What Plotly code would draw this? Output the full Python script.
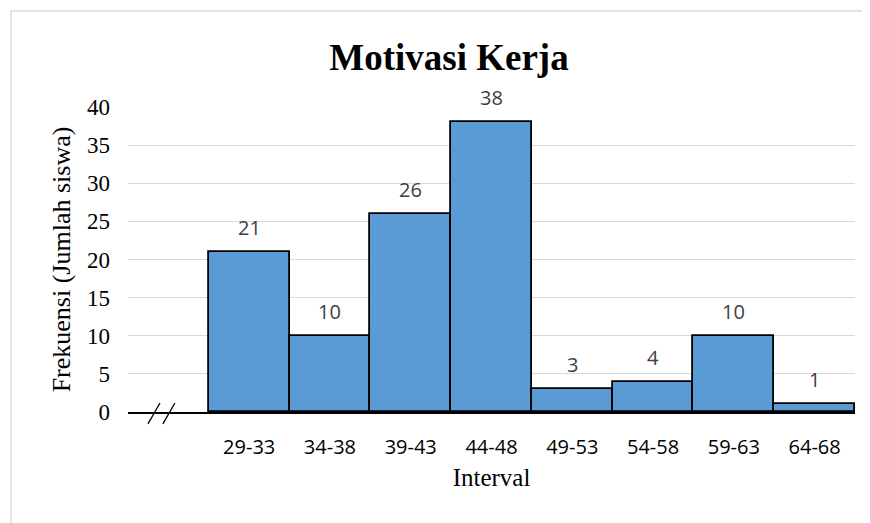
import plotly.graph_objects as go

# --- Data ---
interval = ["29-33", "34-38", "39-43", "44-48", "49-53", "54-58", "59-63", "64-68"]
frekuensi = [21, 10, 26, 38, 3, 4, 10, 1]
y_ticks = [0, 5, 10, 15, 20, 25, 30, 35, 40]

# first slot on the x axis is left empty (axis break)
posisi = list(range(1, len(interval) + 1))

serif = "Liberation Serif, Times New Roman, serif"
sans = "Open Sans, Noto Sans, sans-serif"

fig = go.Figure()

fig.add_trace(go.Bar(
    x=posisi,
    y=frekuensi,
    marker=dict(color="#5b9bd5", line=dict(color="black", width=1.8)),
    hoverinfo="x+y",
    showlegend=False,
))

# data labels above the bars
for xi, v in zip(posisi, frekuensi):
    fig.add_annotation(
        x=xi, y=v, text=str(v), showarrow=False,
        yanchor="bottom", yshift=9,
        font=dict(family=sans, size=20, color="#404040"),
    )

# outer chart border (runs off the right and bottom edges)
fig.add_shape(type="rect", xref="paper", yref="paper",
              x0=-0.161, x1=1.08, y0=-0.45, y1=1.315,
              line=dict(color="#d9d9d9", width=1.5), layer="below")

# axis break marks "//"
for x0 in [0.0275, 0.048]:
    fig.add_shape(type="line", xref="paper", yref="paper",
                  x0=x0, y0=-0.039, x1=x0 + 0.0165, y1=0.0295,
                  line=dict(color="black", width=1.3))

# page body has an 8px margin, so the figure is a bit smaller than the window
fig.update_layout(
    width=862, height=515,
    margin=dict(l=120, r=15, t=99, b=111),
    paper_bgcolor="white",
    plot_bgcolor="white",
    bargap=0,
    title=dict(
        text="<b>Motivasi Kerja</b>",
        x=(449 - 8) / 862, xref="container", xanchor="center",
        y=1 - 49 / 515, yref="container", yanchor="middle",
        font=dict(family=serif, size=37, color="black"),
    ),
    xaxis=dict(
        range=[-0.5, len(interval) + 0.5],
        tickvals=posisi,
        ticktext=interval,
        tickfont=dict(family=sans, size=20, color="black"),
        ticks="",
        ticklabelstandoff=16,
        showgrid=False,
        showline=True, linecolor="black", linewidth=1.5,
        zeroline=False,
        title=dict(text="Interval", standoff=10,
                   font=dict(family=serif, size=25, color="black")),
    ),
    yaxis=dict(
        range=[0, 40],
        tickvals=y_ticks,
        tickfont=dict(family=serif, size=23, color="black"),
        ticks="",
        ticklabelstandoff=17,
        showgrid=True, gridcolor="#d9d9d9", gridwidth=1.3,
        zeroline=False,
        showline=False,
        title=dict(text="Frekuensi (Jumlah siswa)", standoff=8,
                   font=dict(family=serif, size=26, color="black")),
    ),
)

fig.write_html("out.html")
